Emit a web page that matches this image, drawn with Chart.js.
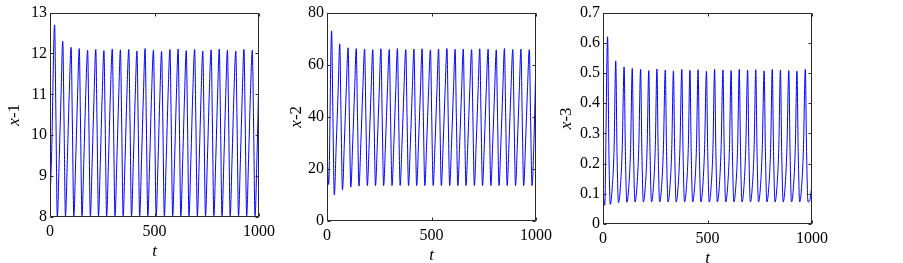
<!DOCTYPE html>
<html>
<head>
<meta charset="utf-8">
<script src="https://cdn.jsdelivr.net/npm/chart.js@4/dist/chart.umd.min.js"></script>
<style>
html,body{margin:0;padding:0;background:#fff;}
body{width:903px;height:263px;position:relative;overflow:hidden;}
canvas{position:absolute;top:0;}
</style>
</head>
<body>
<canvas id="c1" width="290" height="263" style="left:0px"></canvas>
<canvas id="c2" width="290" height="263" style="left:280px"></canvas>
<canvas id="c3" width="348" height="263" style="left:555px"></canvas>
<script>
// time samples (shared)
const t = [0, 8,
 22, 28, 35, 44, 53,
 61, 67, 74, 83, 92,
 101, 107, 114, 123, 132,
 140, 146, 153, 162, 171,
 180, 186, 193, 202, 211,
 219, 225, 232, 241, 250,
 258, 264, 271, 280, 289,
 298, 304, 311, 320, 329,
 337, 343, 350, 359, 368,
 377, 383, 390, 399, 408,
 416, 422, 429, 438, 447,
 455, 461, 468, 477, 486,
 495, 501, 508, 517, 526,
 534, 540, 547, 556, 565,
 574, 580, 587, 596, 605,
 613, 619, 626, 635, 644,
 652, 658, 665, 674, 683,
 692, 698, 705, 714, 723,
 731, 737, 744, 753, 762,
 771, 777, 784, 793, 802,
 810, 816, 823, 832, 841,
 849, 855, 862, 871, 880,
 889, 895, 902, 911, 920,
 928, 934, 941, 950, 959,
 968, 974, 981, 990, 1000];

const x1 = [8.4, 9.6,
 12.70, 10.6, 8.00, 9.4, 11.0,
 12.30, 10.4, 8.02, 9.4, 11.0,
 12.15, 10.3, 8.02, 9.4, 11.0,
 12.12, 10.3, 8.03, 9.4, 11.0,
 12.08, 10.3, 8.03, 9.4, 11.0,
 12.10, 10.3, 8.03, 9.4, 11.0,
 12.07, 10.3, 8.03, 9.4, 11.0,
 12.11, 10.3, 8.03, 9.4, 11.0,
 12.09, 10.3, 8.03, 9.4, 11.0,
 12.10, 10.3, 8.03, 9.4, 11.0,
 12.06, 10.3, 8.03, 9.4, 11.0,
 12.12, 10.3, 8.03, 9.4, 11.0,
 12.08, 10.3, 8.03, 9.4, 11.0,
 12.05, 10.3, 8.03, 9.4, 11.0,
 12.10, 10.3, 8.03, 9.4, 11.0,
 12.11, 10.3, 8.03, 9.4, 11.0,
 12.07, 10.3, 8.03, 9.4, 11.0,
 12.10, 10.3, 8.03, 9.4, 11.0,
 12.06, 10.3, 8.03, 9.4, 11.0,
 12.09, 10.3, 8.03, 9.4, 11.0,
 12.11, 10.3, 8.03, 9.4, 11.0,
 12.08, 10.3, 8.03, 9.4, 11.0,
 12.06, 10.3, 8.03, 9.4, 11.0,
 12.10, 10.3, 8.03, 9.4, 11.0,
 12.08, 10.3, 8.03, 9.4, 11.6];

const x2 = [27, 14,
 73.0, 42, 10.0, 29, 49,
 68.0, 41, 12.0, 30, 50,
 66.5, 40, 13.0, 30, 50,
 66.2, 40, 13.4, 30, 50,
 66.0, 40, 13.6, 30, 50,
 65.8, 40, 13.6, 30, 50,
 66.1, 40, 13.6, 30, 50,
 65.9, 40, 13.6, 30, 50,
 66.2, 40, 13.6, 30, 50,
 65.8, 40, 13.6, 30, 50,
 66.0, 40, 13.6, 30, 50,
 66.1, 40, 13.6, 30, 50,
 65.7, 40, 13.6, 30, 50,
 66.0, 40, 13.6, 30, 50,
 66.2, 40, 13.6, 30, 50,
 65.9, 40, 13.6, 30, 50,
 66.0, 40, 13.6, 30, 50,
 65.8, 40, 13.6, 30, 50,
 66.1, 40, 13.6, 30, 50,
 66.0, 40, 13.6, 30, 50,
 65.7, 40, 13.6, 30, 50,
 66.2, 40, 13.6, 30, 50,
 65.9, 40, 13.6, 30, 50,
 66.0, 40, 13.6, 30, 50,
 65.8, 40, 13.6, 30, 63];

const x3 = [0.10, 0.062,
 0.620, 0.25, 0.065, 0.12, 0.25,
 0.540, 0.24, 0.070, 0.12, 0.25,
 0.520, 0.24, 0.072, 0.12, 0.25,
 0.515, 0.24, 0.073, 0.12, 0.25,
 0.512, 0.24, 0.073, 0.12, 0.25,
 0.508, 0.24, 0.073, 0.12, 0.25,
 0.513, 0.24, 0.073, 0.12, 0.25,
 0.510, 0.24, 0.073, 0.12, 0.25,
 0.507, 0.24, 0.073, 0.12, 0.25,
 0.512, 0.24, 0.073, 0.12, 0.25,
 0.509, 0.24, 0.073, 0.12, 0.25,
 0.511, 0.24, 0.073, 0.12, 0.25,
 0.506, 0.24, 0.073, 0.12, 0.25,
 0.512, 0.24, 0.073, 0.12, 0.25,
 0.510, 0.24, 0.073, 0.12, 0.25,
 0.508, 0.24, 0.073, 0.12, 0.25,
 0.512, 0.24, 0.073, 0.12, 0.25,
 0.509, 0.24, 0.073, 0.12, 0.25,
 0.511, 0.24, 0.073, 0.12, 0.25,
 0.507, 0.24, 0.073, 0.12, 0.25,
 0.512, 0.24, 0.073, 0.12, 0.25,
 0.510, 0.24, 0.073, 0.12, 0.25,
 0.508, 0.24, 0.073, 0.12, 0.25,
 0.506, 0.24, 0.073, 0.12, 0.25,
 0.512, 0.24, 0.073, 0.08, 0.13];

const xTickStep = 500;
const panels = [
  {id:'c1', data:x1, name:'-1', yMin:8, yMax:13, yStep:1,   left:50, right:259, top:9,  bottom:217, titleX:15},
  {id:'c2', data:x2, name:'-2', yMin:0, yMax:80, yStep:20,  left:47, right:256, top:10, bottom:221, titleX:17},
  {id:'c3', data:x3, name:'-3', yMin:0, yMax:0.7, yStep:0.1, left:48, right:257, top:10, bottom:224, titleX:12}
];

const FONT = "'Liberation Serif','Times New Roman',serif";

const framePlugin = {
  id: 'frame',
  afterDraw(chart, args, o) {
    const {ctx, chartArea:a, scales} = chart;
    const xs = scales.x, ys = scales.y;
    ctx.save();
    ctx.strokeStyle = '#2a2a2a';
    ctx.lineWidth = 1;
    const L = Math.round(a.left) + 0.5, R = Math.round(a.right) - 0.5;
    const T = Math.round(a.top) + 0.5, B = Math.round(a.bottom) - 0.5;
    ctx.strokeRect(L, T, R - L, B - T);
    ctx.beginPath();
    xs.ticks.forEach(tk => {
      const p = Math.round(xs.getPixelForValue(tk.value)) + 0.5;
      ctx.moveTo(p, B); ctx.lineTo(p, B - 3);
      ctx.moveTo(p, T); ctx.lineTo(p, T + 3);
    });
    ys.ticks.forEach(tk => {
      const p = Math.round(ys.getPixelForValue(tk.value)) + 0.5;
      ctx.moveTo(L, p); ctx.lineTo(L + 3, p);
      ctx.moveTo(R, p); ctx.lineTo(R - 3, p);
    });
    ctx.stroke();
    // y title: italic x + upright suffix
    ctx.fillStyle = '#000';
    ctx.textBaseline = 'middle';
    ctx.translate(o.titleX, (a.top + a.bottom) / 2);
    ctx.rotate(-Math.PI / 2);
    const fi = 'italic 17px ' + FONT, fn = '17px ' + FONT;
    ctx.font = fi; const w1 = ctx.measureText('x').width;
    ctx.font = fn; const w2 = ctx.measureText(o.name).width;
    const s = -(w1 + w2) / 2;
    ctx.font = fi; ctx.textAlign = 'left'; ctx.fillText('x', s, 0);
    ctx.font = fn; ctx.fillText(o.name, s + w1, 0);
    ctx.restore();
    // x title
    ctx.save();
    ctx.fillStyle = '#000';
    ctx.font = 'italic 17px ' + FONT;
    ctx.textAlign = 'center';
    ctx.textBaseline = 'middle';
    ctx.fillText('t', (a.left + a.right) / 2, a.bottom + 35);
    ctx.restore();
  }
};

panels.forEach(p => {
  const cv = document.getElementById(p.id);
  const W = cv.width, H = cv.height;
  const pts = t.map((tv, i) => ({x: tv, y: p.data[i]}));
  new Chart(cv, {
    type: 'line',
    data: { datasets: [{ data: pts, borderColor: '#0000ff', borderWidth: 1, pointRadius: 0,
      cubicInterpolationMode: 'monotone', fill: false }] },
    options: {
      responsive: false, animation: false, devicePixelRatio: 1,
      layout: { padding: { left: 0, top: p.top, right: W - p.right, bottom: 0 } },
      plugins: { legend: {display:false}, tooltip: {enabled:false},
        frame: { name: p.name, titleX: p.titleX } },
      scales: {
        x: { type: 'linear', min: 0, max: 1000,
          ticks: { stepSize: xTickStep, color: '#000', font: {family: FONT, size: 16}, padding: 5, maxRotation: 0,
            callback: v => String(v) },
          grid: { display: false, drawTicks: false }, border: { display: false },
          afterFit: s => { s.height = H - p.bottom; } },
        y: { type: 'linear', min: p.yMin, max: p.yMax,
          ticks: { stepSize: p.yStep, color: '#000', font: {family: FONT, size: 16}, padding: 3 },
          grid: { display: false, drawTicks: false }, border: { display: false },
          afterFit: s => { s.width = p.left; } }
      }
    },
    plugins: [framePlugin]
  });
});
</script>
</body>
</html>
